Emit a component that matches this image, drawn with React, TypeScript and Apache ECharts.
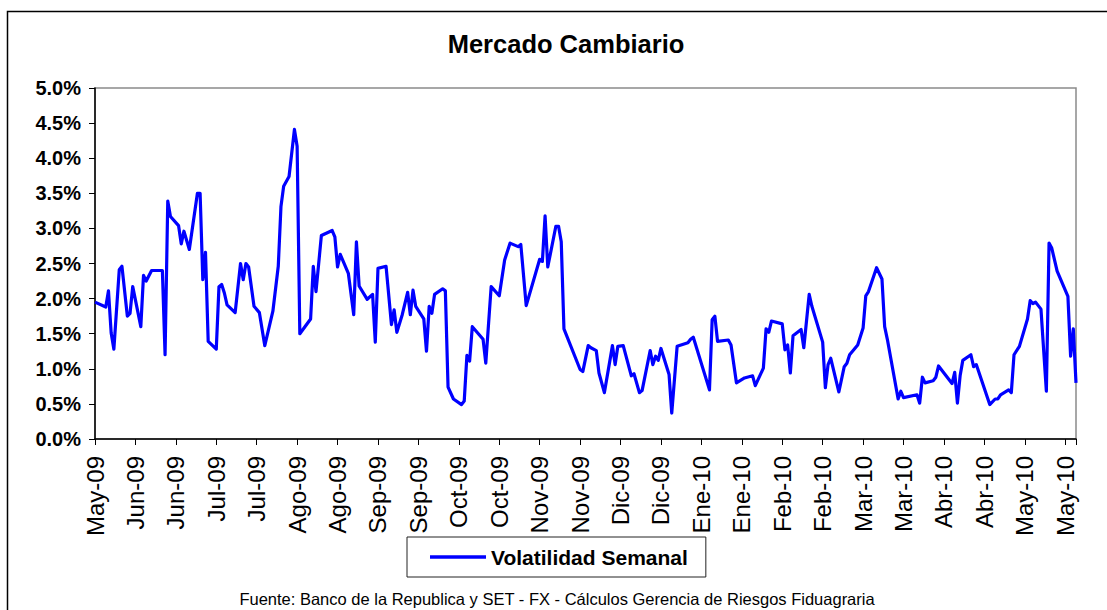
import React, { useEffect, useRef } from "react";
import * as echarts from "echarts";

// Start date of the x axis (day 0) : 22-May-2009; offsets are calendar days from it
const startDate = "2009-05-22";
const tickLabels = [
  "May-09", "Jun-09", "Jun-09", "Jul-09", "Jul-09", "Ago-09", "Ago-09", "Sep-09", "Sep-09",
  "Oct-09", "Oct-09", "Nov-09", "Nov-09", "Dic-09", "Dic-09", "Ene-10", "Ene-10", "Feb-10",
  "Feb-10", "Mar-10", "Mar-10", "Abr-10", "Abr-10", "May-10", "May-10",
];
const yTicks = [0, 0.5, 1, 1.5, 2, 2.5, 3, 3.5, 4, 4.5, 5];

const dayOffsets = [
  0, 4, 5, 6, 7, 9, 10, 12, 13, 14, 17, 18, 19, 21, 25, 26, 27, 28, 31, 32,
  33, 35, 38, 39, 40, 41, 42, 45, 46, 47, 48, 49, 52, 54, 55, 56, 57, 59, 61, 63,
  66, 68, 69, 70, 72, 74, 75, 76, 80, 81, 82, 84, 88, 89, 90, 91, 94, 96, 97, 98,
  101, 103, 104, 105, 108, 110, 111, 112, 114, 116, 117, 118, 119, 122, 123, 124, 125, 126, 129, 130,
  131, 133, 136, 137, 138, 139, 140, 144, 145, 147, 150, 152, 154, 157, 158, 160, 165, 166, 167, 168,
  171, 172, 173, 174, 180, 181, 183, 184, 186, 187, 189, 192, 193, 194, 196, 199, 200, 202, 203, 206,
  207, 208, 209, 210, 213, 214, 216, 220, 221, 222, 228, 229, 230, 231, 235, 236, 238, 241, 244, 245,
  248, 249, 250, 251, 255, 256, 257, 258, 259, 262, 263, 265, 266, 270, 271, 272, 273, 276, 278, 279,
  280, 283, 285, 286, 287, 290, 292, 293, 294, 298, 299, 300, 305, 306, 307, 308, 311, 312, 313, 318,
  319, 320, 321, 322, 325, 326, 327, 332, 334, 335, 336, 339, 340, 341, 343, 346, 347, 348, 349, 351,
  353, 354, 355, 357, 361, 362, 363, 364,
];
const volatilidad = [
  1.95, 1.88, 2.11, 1.51, 1.28, 2.41, 2.46, 1.75, 1.79, 2.17, 1.60, 2.33, 2.25, 2.40, 2.40, 1.20, 3.39, 3.17, 3.04, 2.78,
  2.96, 2.70, 3.50, 3.50, 2.27, 2.66, 1.39, 1.28, 2.17, 2.20, 2.08, 1.91, 1.80, 2.50, 2.27, 2.50, 2.45, 1.89, 1.80, 1.33,
  1.82, 2.46, 3.31, 3.60, 3.74, 4.41, 4.17, 1.50, 1.71, 2.46, 2.10, 2.90, 2.97, 2.88, 2.45, 2.63, 2.36, 1.77, 2.81, 2.18,
  1.99, 2.06, 1.38, 2.43, 2.46, 1.63, 1.84, 1.52, 1.77, 2.09, 1.77, 2.12, 1.89, 1.71, 1.25, 1.89, 1.79, 2.06, 2.14, 2.11,
  0.74, 0.57, 0.49, 0.54, 1.19, 1.11, 1.60, 1.42, 1.08, 2.17, 2.04, 2.55, 2.79, 2.74, 2.77, 1.90, 2.56, 2.53, 3.18, 2.45,
  3.03, 3.03, 2.81, 1.57, 0.99, 0.96, 1.33, 1.30, 1.26, 0.94, 0.66, 1.33, 1.06, 1.32, 1.33, 0.90, 0.93, 0.66, 0.69, 1.26,
  1.06, 1.18, 1.12, 1.29, 0.92, 0.37, 1.32, 1.37, 1.42, 1.45, 0.70, 1.70, 1.75, 1.39, 1.41, 1.34, 0.80, 0.87, 0.90, 0.76,
  1.01, 1.57, 1.52, 1.68, 1.64, 1.27, 1.34, 0.94, 1.47, 1.56, 1.30, 2.06, 1.89, 1.38, 0.73, 1.06, 1.15, 0.67, 1.03, 1.08,
  1.20, 1.34, 1.58, 2.04, 2.10, 2.44, 2.28, 1.60, 1.42, 0.57, 0.68, 0.59, 0.63, 0.51, 0.88, 0.80, 0.83, 0.88, 1.04, 0.79,
  0.95, 0.51, 0.90, 1.12, 1.20, 1.03, 1.06, 0.49, 0.57, 0.57, 0.63, 0.70, 0.66, 1.20, 1.32, 1.71, 1.97, 1.93, 1.95, 1.85,
  0.68, 2.79, 2.72, 2.39, 2.03, 1.18, 1.57, 0.80,
];

const titleText = "Mercado Cambiario";
const seriesName = "Volatilidad Semanal";
const sourceText = "Fuente: Banco de la Republica y SET - FX - Cálculos Gerencia de Riesgos Fiduagraria";

const FONT = "'Liberation Sans', Arial, sans-serif";

export default function App() {
  const ref = useRef<HTMLDivElement>(null);
  useEffect(() => {
    if (!ref.current) return;
    const chart = echarts.init(ref.current, undefined, { renderer: "svg" });
    const data = dayOffsets.map((d, i) => [d, volatilidad[i]]);
    const step = 15;
    chart.setOption({
      animation: false,
      backgroundColor: "#fff",
      grid: {
        left: 95,
        top: 88,
        right: 31,
        bottom: 171,
        show: true,
        borderColor: "#8a8a8a",
        borderWidth: 1.5,
        containLabel: false,
      },
      legend: {
        data: [seriesName],
        left: 407,
        top: 537,
        orient: "horizontal",
        backgroundColor: "#fff",
        borderColor: "#222",
        borderWidth: 1,
        borderRadius: 0,
        padding: [9, 18, 9, 23],
        icon: "rect",
        itemWidth: 56,
        itemHeight: 3.5,
        textStyle: { fontFamily: FONT, fontWeight: "bold", fontSize: 21, color: "#000", lineHeight: 22 },
      },
      xAxis: {
        type: "value",
        min: 0,
        max: 364,
        interval: step,
        axisLine: { show: true, onZero: false, lineStyle: { color: "#000", width: 1.5 } },
        axisTick: { show: true, inside: false, length: 6, lineStyle: { color: "#000", width: 1 } },
        splitLine: { show: false },
        axisLabel: {
          rotate: 90,
          margin: 17,
          fontFamily: FONT,
          fontSize: 24,
          color: "#000",
          showMaxLabel: true,
          formatter: (v: number) => {
            if (v % step !== 0) return "";
            const idx = Math.round(v / step);
            return tickLabels[idx] ?? "";
          },
        },
      },
      yAxis: {
        type: "value",
        min: yTicks[0],
        max: yTicks[yTicks.length - 1],
        interval: 0.5,
        axisLine: { show: true, lineStyle: { color: "#000", width: 1.5 } },
        axisTick: { show: true, inside: false, length: 6, lineStyle: { color: "#000", width: 1 } },
        splitLine: { show: false },
        axisLabel: {
          margin: 14,
          fontFamily: FONT,
          fontSize: 20,
          fontWeight: "bold",
          color: "#000",
          formatter: (v: number) => v.toFixed(1) + "%",
        },
      },
      series: [
        {
          name: seriesName,
          type: "line",
          data,
          symbol: "none",
          showSymbol: false,
          lineStyle: { color: "#0000ff", width: 3.2, join: "round" },
          itemStyle: { color: "#0000ff" },
        },
      ],
      graphic: [
        {
          type: "rect",
          shape: { x: 7.5, y: 11.5, width: 1120, height: 620 },
          style: { fill: "none", stroke: "#000", lineWidth: 1.5 },
          silent: true,
          z: -1,
        },
        {
          type: "text",
          x: 566,
          y: 44,
          style: {
            text: titleText,
            fontFamily: FONT,
            fontSize: 25.5,
            fontWeight: "bold",
            fill: "#000",
            textAlign: "center",
            textVerticalAlign: "middle",
          },
        },
        {
          type: "text",
          x: 557,
          y: 599,
          style: {
            text: sourceText,
            fontFamily: FONT,
            fontSize: 16.5,
            fill: "#000",
            textAlign: "center",
            textVerticalAlign: "middle",
          },
        },
      ],
    });
    return () => chart.dispose();
  }, []);
  return (
    <div
      ref={ref}
      data-start={startDate}
      style={{ position: "fixed", left: 0, top: 0, width: 1107, height: 610, background: "#fff" }}
    />
  );
}
